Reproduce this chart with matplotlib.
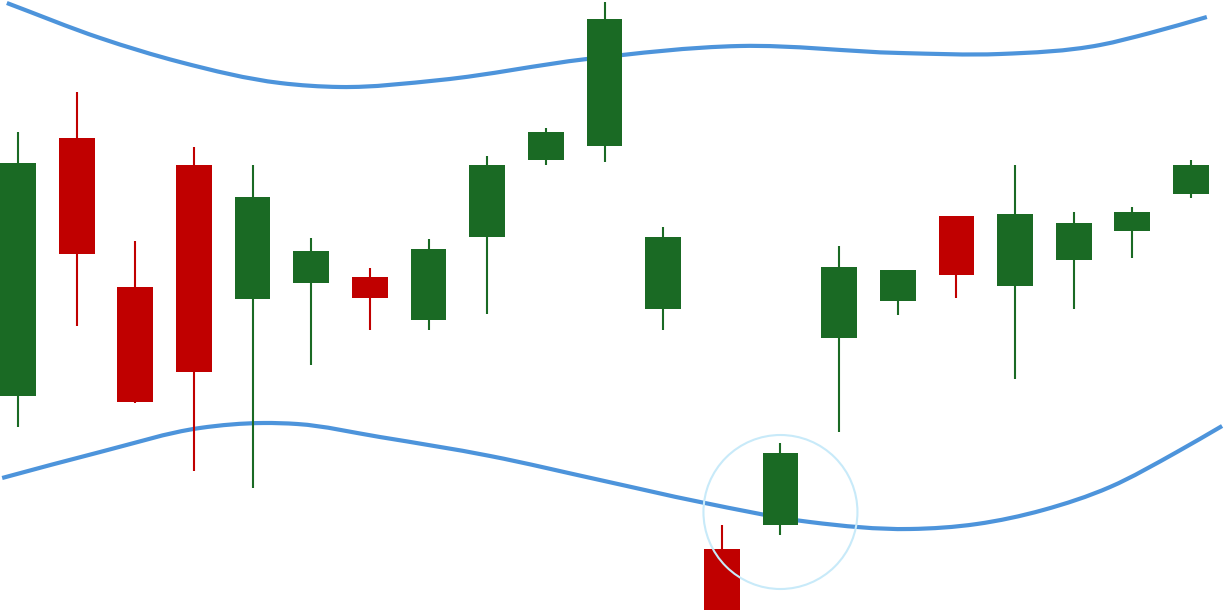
import numpy as np
import matplotlib.pyplot as plt
from matplotlib.patches import Ellipse, PathPatch
from matplotlib.path import Path

# Candle data (price units)
opens = [214, 472, 323, 445, 311, 327, 333, 290, 373, 450, 464, 301, 61, 85, 272, 309, 394, 324, 350, 379, 416]
closes = [447, 356, 208, 238, 413, 359, 312, 361, 445, 478, 591, 373, 0, 157, 343, 340, 335, 396, 387, 398, 445]
highs = [478, 518, 369, 463, 445, 372, 342, 371, 454, 482, 608, 383, 85, 167, 364, 340, 394, 445, 398, 403, 450]
lows = [183, 284, 207, 139, 122, 245, 280, 280, 296, 445, 448, 280, 0, 75, 178, 295, 312, 231, 301, 352, 412]

# Upper and lower band lines (x in candle index units)
upper_x = [-0.19, 1.40, 2.76, 4.47, 5.49, 7.20, 9.70, 12.31, 15.04, 16.74, 18.45, 19.30, 20.27]
upper_y = [607, 572, 548, 527, 523, 530, 551, 564, 557, 556, 565, 577, 593]
lower_x = [-0.27, 1.40, 3.10, 4.18, 4.76, 6.17, 8.05, 9.92, 11.63, 13.50, 15.21, 16.35,
           17.48, 18.62, 19.76, 20.53]
lower_y = [132, 158, 182, 187, 186, 173, 154, 130, 108, 88, 81, 86,
           100, 123, 158, 184]

# Highlighted candle
highlight_idx = 13
highlight_price = 98

green = '#1a6a24'
red = '#c00000'
blue = '#4d94db'


def smooth_path(xs, ys):
    # smooth curve through the points (cubic hermite in x, drawn as bezier segments)
    xs = np.asarray(xs, float)
    ys = np.asarray(ys, float)
    m = np.gradient(ys, xs)
    verts = [(xs[0], ys[0])]
    codes = [Path.MOVETO]
    for i in range(len(xs) - 1):
        h = xs[i + 1] - xs[i]
        verts += [(xs[i] + h / 3, ys[i] + m[i] * h / 3),
                  (xs[i + 1] - h / 3, ys[i + 1] - m[i + 1] * h / 3),
                  (xs[i + 1], ys[i + 1])]
        codes += [Path.CURVE4] * 3
    return Path(verts, codes)


opens = np.array(opens)
closes = np.array(closes)
x = np.arange(len(opens))
colors = [green if c >= o else red for o, c in zip(opens, closes)]

fig = plt.figure(figsize=(12.24, 6.10), dpi=100)
ax = fig.add_axes([0, 0, 1, 1])

for bx, by in [(upper_x, upper_y), (lower_x, lower_y)]:
    ax.add_patch(PathPatch(smooth_path(bx, by), fill=False, edgecolor=blue,
                           linewidth=3, capstyle='butt', zorder=1))

ax.vlines(x, lows, highs, colors=colors, linewidth=1.5, zorder=2)
ax.bar(x, np.abs(closes - opens), bottom=np.minimum(opens, closes), width=0.61,
       color=colors, linewidth=0, zorder=3)

# circle around the highlighted candle (ellipse in data units)
ax.add_patch(Ellipse((highlight_idx, highlight_price), width=154 / 58.65, height=154,
                     fill=False, edgecolor='#c8eaf9', linewidth=1.5, zorder=4))

ax.set_xlim(-18 / 58.65, (1224 - 18) / 58.65)
ax.set_ylim(0, 610)
ax.axis('off')

plt.savefig("out.png", dpi=100)
